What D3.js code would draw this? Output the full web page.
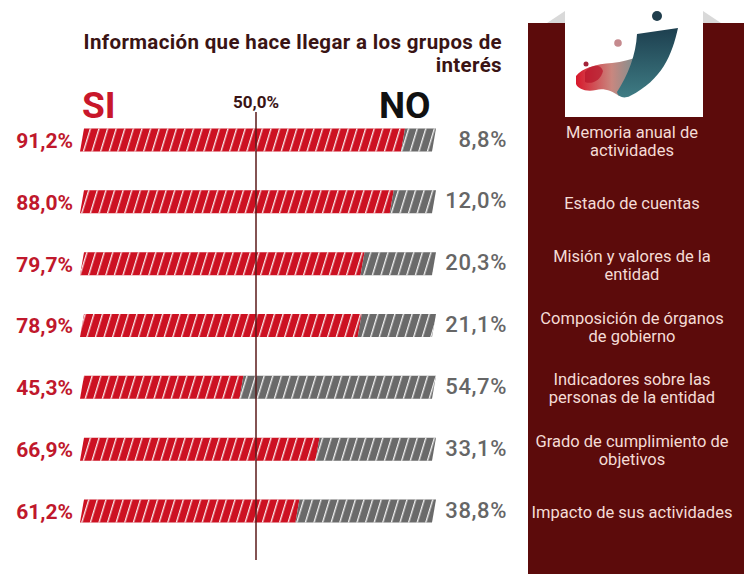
<!DOCTYPE html>
<html><head><meta charset="utf-8">
<script src="https://cdn.jsdelivr.net/npm/d3@7"></script>
<style>html,body{margin:0;padding:0;background:#fff;}svg{display:block;font-family:Roboto,"Noto Sans",sans-serif;}</style>
</head><body>
<script>
const categories = ["Memoria anual de\nactividades","Estado de cuentas","Misión y valores de la\nentidad","Composición de órganos\nde gobierno","Indicadores sobre las\npersonas de la entidad","Grado de cumplimiento de\nobjetivos","Impacto de sus actividades"];
const siValues = [91.2, 88.0, 79.7, 78.9, 45.3, 66.9, 61.2];
const noValues = [8.8, 12.0, 20.3, 21.1, 54.7, 33.1, 38.8];
const titleLines = ["Información que hace llegar a los grupos de","interés"];
const refLabel = "50,0%";
const fmt = v => d3.format(".1f")(v).replace(".", ",") + "%";

const W = 746, H = 574;
const svg = d3.select("body").append("svg").attr("width", W).attr("height", H);
const defs = svg.append("defs");

const x = d3.scaleLinear().domain([0, 100]).range([80, 432]);
const y = d3.scalePoint().domain(categories).range([140, 511]);
const barH = 23, slant = 4;

// stripe pattern
const pat = defs.append("pattern").attr("id","stripes").attr("patternUnits","userSpaceOnUse")
  .attr("width", 8.6).attr("height", 200).attr("patternTransform","skewX(-17)");
pat.append("rect").attr("x",0).attr("y",0).attr("width",1.4).attr("height",200).attr("fill","#fff").attr("opacity",0.9);

// right panel
svg.append("rect").attr("x",528).attr("y",23).attr("width",216).attr("height",H-23).attr("fill","#5c0b0b");
svg.append("path").attr("d","M547,23 L565,11 L565,23 Z").attr("fill","#d9d9d9");
svg.append("path").attr("d","M703,11 L721,23 L703,23 Z").attr("fill","#d9d9d9");
svg.append("rect").attr("x",565).attr("y",0).attr("width",138).attr("height",117).attr("fill","#fff");
// logo
const gr = defs.append("linearGradient").attr("id","redrib").attr("x1","0").attr("y1","0").attr("x2","1").attr("y2","0");
gr.append("stop").attr("offset","0").attr("stop-color","#d8172b");
gr.append("stop").attr("offset","0.55").attr("stop-color","#c9877f");
gr.append("stop").attr("offset","1").attr("stop-color","#6c9294");
const gt = defs.append("linearGradient").attr("id","tealrib").attr("x1","0").attr("y1","0").attr("x2","0").attr("y2","1");
gt.append("stop").attr("offset","0").attr("stop-color","#1d3f4f");
gt.append("stop").attr("offset","1").attr("stop-color","#3f7c84");
const logo = svg.append("g");
logo.append("path").attr("d","M576,76 C582,68 596,64 612,63 C622,62 632,59 641,56 L637,72 C631,82 625,90 619,96 C612,91 604,88 596,90 C586,92 578,89 576,84 Z").attr("fill","url(#redrib)");
logo.append("path").attr("d","M585,72 C591,64 601,64 603,71 C601,80 592,85 585,82 Z").attr("fill","#b8142a").attr("opacity",0.7);
logo.append("path").attr("d","M637,34 L678,28 C672,55 662,80 630,96 C624,99 618,97 617,92 C628,75 636,55 637,34 Z").attr("fill","url(#tealrib)");
logo.append("circle").attr("cx",657).attr("cy",16).attr("r",5).attr("fill","#1f3d4c");
logo.append("circle").attr("cx",618).attr("cy",43).attr("r",3.8).attr("fill","#c58a8e");
logo.append("circle").attr("cx",586).attr("cy",64).attr("r",2.5).attr("fill","#a3243a");

// title
svg.append("text").attr("text-anchor","end").attr("font-weight",700).attr("font-size",20.5).attr("letter-spacing",0.35).attr("fill","#3a1414")
  .selectAll("tspan").data(titleLines).join("tspan").attr("x",502).attr("y",(d,i)=>49+i*23).text(d=>d);

svg.append("text").attr("x",82).attr("y",118).attr("font-size",37).attr("font-weight",700).attr("fill","#c8172b").text("SI");
svg.append("text").attr("x",379).attr("y",118).attr("font-size",37).attr("font-weight",700).attr("fill","#111").text("NO");
svg.append("text").attr("x",x(50)).attr("y",108).attr("text-anchor","middle").attr("font-size",17).attr("font-weight",700).attr("fill","#3a1414").text(refLabel);

const para = (a, b, yc) => {
  const t = yc - barH/2, bt = yc + barH/2;
  return `M${x(a)+slant},${t} L${x(b)+slant},${t} L${x(b)},${bt} L${x(a)},${bt} Z`;
};

const rows = svg.append("g").selectAll("g").data(categories).join("g");
rows.append("path").attr("d",(d,i)=>para(0, siValues[i], y(d))).attr("fill","#cc1122");
rows.append("path").attr("d",(d,i)=>para(siValues[i], siValues[i]+noValues[i], y(d))).attr("fill","#6a6a6a");
rows.append("path").attr("d",(d,i)=>para(0, siValues[i]+noValues[i], y(d))).attr("fill","url(#stripes)");

rows.append("text").attr("x",73).attr("y",d=>y(d)).attr("dy","0.38em").attr("text-anchor","end")
  .attr("font-size",21).attr("font-weight",700).attr("fill","#c0182c").text((d,i)=>fmt(siValues[i]));
rows.append("text").attr("x",507).attr("y",d=>y(d)).attr("dy","0.3em").attr("text-anchor","end")
  .attr("font-size",22).attr("font-weight",500).attr("letter-spacing",0.6).attr("fill","#666").text((d,i)=>fmt(noValues[i]));

rows.append("text").attr("text-anchor","middle").attr("font-size",16.5).attr("fill","#f4dcd6")
  .each(function(d){
    const lines = d.split("\n");
    const yc = y(d) + 7 - (lines.length-1)*9;
    d3.select(this).selectAll("tspan").data(lines).join("tspan").attr("x",632).attr("y",(l,j)=>yc + j*18).text(l=>l);
  });

// 50% line
svg.append("line").attr("x1",x(50)).attr("x2",x(50)).attr("y1",112).attr("y2",560).attr("stroke","#5a1a1a").attr("stroke-width",1.5);
</script>
</body></html>
